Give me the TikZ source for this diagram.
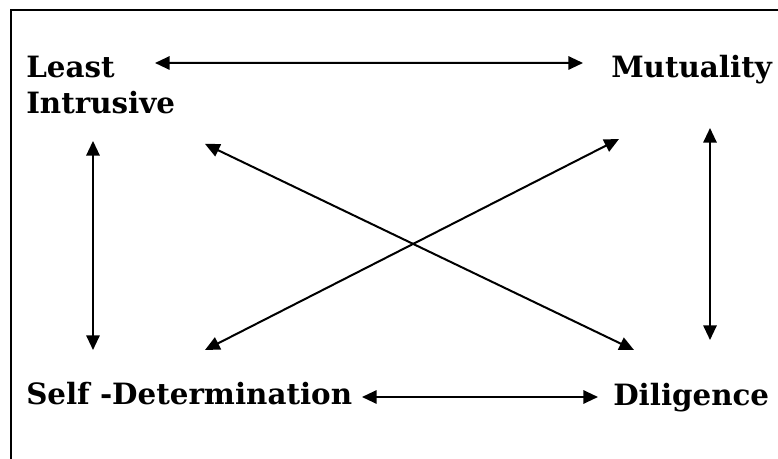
\documentclass[tikz,border=0pt]{standalone}
\usepackage{fontspec}
\setmainfont{DejaVu Serif}
\usetikzlibrary{arrows.meta}

\begin{document}
\begin{tikzpicture}[
        x=0.75pt, y=-0.75pt,
        word/.style={inner sep=0pt, font=\bfseries\fontsize{22}{27}\selectfont, align=left},
        link/.style={{Triangle[length=11pt,width=10pt]}-{Triangle[length=11pt,width=10pt]}, line width=1.5pt}]
        \useasboundingbox (0,0) rectangle (778,459);
        \clip (0,0) rectangle (778,459);
        % frame
        \draw[line width=1.6pt] (11,470) -- (11,10) -- (790,10) -- (790,470);
        % NODES
        % node Least Intrusive
        \node[word, anchor=north west] (LI) at (26,55.6) {Least\\Intrusive};
        % node Mutuality
        \node[word, anchor=base west] (M) at (611,78) {Mutuality};
        % node Self-Determination
        \node[word, anchor=base west] (SD) at (26,405) {Self -Determination};
        % node Diligence
        \node[word, anchor=base west] (D) at (613,406) {Diligence};

        % ARROWS
        \draw[link] ([shift={(129,7.4)}]LI.north west) -- ([shift={(-28,-15)}]M.base west);
        \draw[link] ([shift={(67,27)}]LI.south west) -- ([shift={(67,-55)}]SD.base west);
        \draw[link] ([shift={(99,50)}]M.base west) -- ([shift={(97,-66)}]D.base west);
        \draw[link] ([shift={(179,30)}]LI.south west) -- ([shift={(21,-56)}]D.base west);
        \draw[link] ([shift={(179,-55)}]SD.base west) -- ([shift={(8,61)}]M.base west);
        \draw[link] ([shift={(336,-8)}]SD.base west) -- ([shift={(-15,-9)}]D.base west);
    \end{tikzpicture}
\end{document}
